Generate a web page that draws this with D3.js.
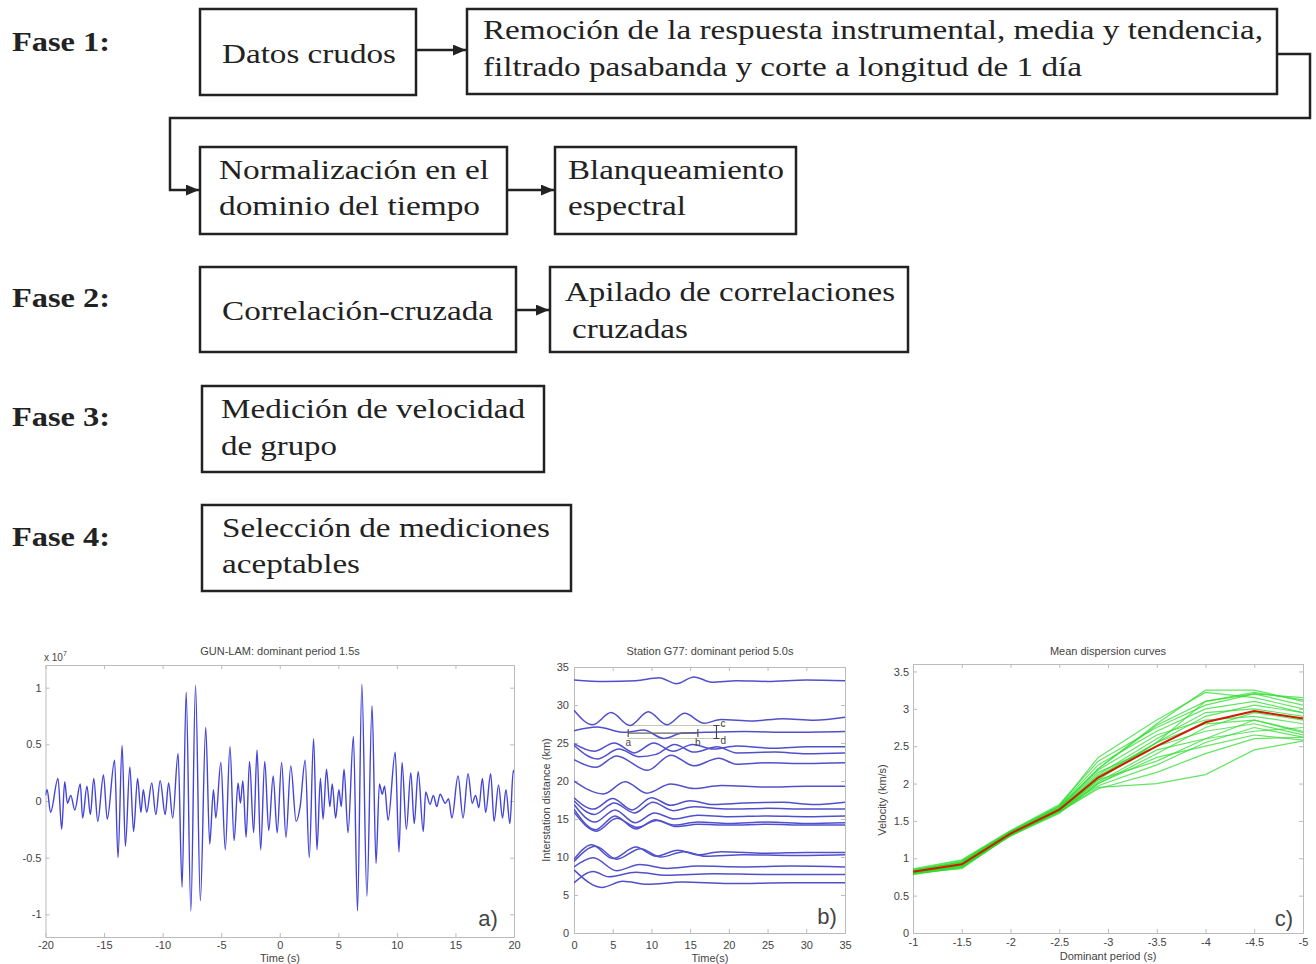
<!DOCTYPE html>
<html>
<head>
<meta charset="utf-8">
<script src="https://cdn.jsdelivr.net/npm/d3@7"></script>
<style>
body { margin: 0; background: #fff; }
svg { display: block; }
.axis text { font-family: "Liberation Sans", Arial, sans-serif; font-size: 11px; fill: #444; }
.axis path, .axis line { stroke: #bbb; }
.lbl { font-family: "Liberation Sans", Arial, sans-serif; font-size: 11px; fill: #444; }
.flow { font-family: "Liberation Serif", "Times New Roman", serif; font-size: 28px; fill: #222; }
</style>
</head>
<body>
<div id="chart"></div>
<script>

// ---------- flow chart text ----------
var faseLabels = ["Fase 1:", "Fase 2:", "Fase 3:", "Fase 4:"];
var boxLines = [
    ["Datos crudos"],
    ["Remoción de la respuesta instrumental, media y tendencia,", "filtrado pasabanda y corte a longitud de 1 día"],
    ["Normalización en el", "dominio del tiempo"],
    ["Blanqueamiento", "espectral"],
    ["Correlación-cruzada"],
    ["Apilado de correlaciones", "cruzadas"],
    ["Medición de velocidad", "de grupo"],
    ["Selección de mediciones", "aceptables"]
];

// ---------- a) GUN-LAM waveform (extrema, x 10^7) ----------
var waveT = [-20, -19.86, -19.57, -18.93, -18.62, -18.36, -18.13, -17.84, -17.5, -17.03, -16.83, -16.46, -16.17,
    -15.88, -15.54, -15.05, -14.73, -14.1, -13.81, -13.46, -13.18, -12.8, -12.48, -12.14, -11.85, -11.65, -11.36,
    -10.93, -10.58, -10.21, -9.78, -9.49, -9.14, -8.68, -8.34, -7.99, -7.59, -7.19, -6.78, -6.32, -5.98, -5.66,
    -5.46, -5.03, -4.65, -4.25, -3.9, -3.56, -3.36, -3.15, -2.87, -2.58, -2.23, -1.94, -1.63, -1.28, -0.94, -0.56,
    -0.22, 0.16, 0.53, 0.94, 1.4, 1.74, 2.17, 2.52, 2.89, 3.18, 3.47, 3.7, 3.99, 4.28, 4.48, 4.77, 5.05, 5.25,
    5.49, 5.83, 6.29, 6.64, 7.01, 7.44, 7.88, 8.22, 8.51, 8.75, 8.95, 9.25, 9.86, 10.18, 10.44, 10.81, 11.19,
    11.48, 11.82, 12.25, 12.46, 12.83, 13.12, 13.41, 13.69, 14.13, 14.41, 14.7, 15.22, 15.65, 16.08, 16.43,
    16.72, 17.0, 17.3, 17.58, 18.01, 18.3, 18.68, 19.02, 19.31, 19.65, 19.94, 20];
var waveV = [0.05, 0.1, -0.1, 0.2, -0.25, 0.17, -0.02, 0.05, -0.08, 0.15, -0.15, 0.13, -0.12,
    0.2, -0.18, 0.23, -0.16, 0.36, -0.5, 0.49, -0.4, 0.3, -0.27, 0.2, -0.1, 0.1, -0.1,
    0.16, -0.12, 0.18, -0.12, 0.16, -0.15, 0.42, -0.76, 0.96, -0.97, 1.02, -0.88, 0.65, -0.38, 0.1,
    -0.15, 0.34, -0.43, 0.48, -0.35, 0.16, -0.02, 0.18, -0.32, 0.35, -0.28, 0.45, -0.43, 0.35, -0.26, 0.22,
    -0.28, 0.34, -0.32, 0.31, -0.18, -0.05, 0.36, -0.5, 0.55, -0.43, 0.2, -0.16, 0.28, -0.05, 0.15, -0.15, 0.1, -0.05,
    0.28, -0.28, 0.57, -0.97, 1.03, -0.84, 0.84, -0.55, 0.15, 0.06, 0.13, -0.17, 0.43, -0.45, 0.34, -0.25, 0.25,
    -0.2, 0.26, -0.27, 0.08, -0.03, 0.05, -0.05, 0.06, -0.02, 0.02, -0.15, 0.22, -0.15, 0.24, -0.02,
    0.05, -0.06, 0.2, -0.1, 0.24, -0.18, 0.14, -0.15, 0.1, -0.2, 0.27, 0.25];
var waveXTicks = [-20, -15, -10, -5, 0, 5, 10, 15, 20];
var waveYTicks = [-1, -0.5, 0, 0.5, 1];

// ---------- b) Station G77 correlations: [time (s), distance (km)] ----------
var stationTraces = [
    [[0,33.3],[4,33.1],[8,33.2],[11,33.6],[13.2,32.8],[15.5,33.7],[17.8,33.0],[21,33.2],[25,33.1],[30,33.3],[35,33.2]],
    [[0,29.3],[2.4,27.4],[4.8,29.0],[7.2,27.3],[9.6,29.1],[12,27.4],[14.3,28.9],[16.8,27.6],[19,28.1],[23,27.9],[27,28.2],[31,28.0],[35,28.4]],
    [[0,26.6],[3,27.1],[6.5,26.4],[9,26.7],[11.6,25.6],[14,26.3],[17,26.4],[22,26.5],[28,26.4],[35,26.5]],
    [[0,24.9],[2.6,23.9],[5.2,25.0],[7.8,23.7],[10.3,25.0],[12.8,23.9],[15.3,24.8],[18,24.2],[21,24.6],[26,24.3],[30,24.5],[35,24.5]],
    [[0,24.7],[3,22.9],[5.8,24.2],[8.4,23.2],[10.6,23.5],[13,24.8],[15.5,23.8],[18.5,24.5],[21,23.7],[26,23.8],[30,23.6],[35,23.7]],
    [[0,22.8],[2.8,21.8],[5.5,23.3],[9.5,21.4],[12.5,23.4],[15.5,22.0],[18.7,23.0],[21,22.2],[25,22.4],[30,22.3],[35,22.4]],
    [[0,20.0],[3.8,18.3],[6.6,19.9],[9.4,18.4],[12.5,19.6],[15.5,19.0],[19,19.4],[25,19.2],[30,19.3],[35,19.3]],
    [[0,17.8],[2.5,16.3],[5,17.7],[7.5,16.2],[10,17.8],[12.5,16.8],[15,17.4],[18,16.9],[22,17.1],[27,17.2],[31,16.9],[35,17.2]],
    [[0,17.4],[2.6,15.6],[5.2,17.1],[7.8,15.8],[10.2,17.2],[12.8,16.1],[15.5,16.6],[20,16.3],[25,16.4],[30,16.3],[35,16.3]],
    [[0,16.9],[2.7,14.6],[5.3,16.2],[7.9,14.5],[10.4,15.8],[13,15.0],[16,15.5],[20,15.3],[25,15.4],[30,15.3],[35,15.4]],
    [[0,16.3],[2.8,13.6],[5.3,15.4],[8,13.7],[10.5,14.9],[13,14.2],[16,14.6],[20,14.4],[25,14.6],[30,14.4],[35,14.5]],
    [[0,15.9],[2.9,13.4],[5.5,15.1],[8.2,13.9],[10.7,14.8],[13.2,14.0],[16,14.3],[20,14.2],[25,14.3],[30,14.2],[35,14.2]],
    [[0,9.7],[2.3,11.6],[5,9.8],[8,11.3],[10.6,10.1],[13.4,10.9],[16,10.3],[19,10.7],[25,10.5],[30,10.6],[35,10.6]],
    [[0,9.4],[2.8,11.4],[5.5,9.7],[8.6,11.1],[11.2,10.0],[14.2,10.7],[17,10.1],[22,10.3],[28,10.2],[35,10.3]],
    [[0,8.7],[2.5,9.9],[5.5,8.2],[8.5,9.0],[12,8.5],[16,8.8],[22,8.7],[28,8.8],[35,8.7]],
    [[0,6.6],[2.5,8.1],[4.5,7.4],[8,8.0],[12,7.6],[18,7.8],[25,7.7],[35,7.7]],
    [[0,8.3],[3.6,6.0],[6.3,6.8],[9.5,6.4],[14,6.7],[20,6.5],[28,6.6],[35,6.6]]
];
// measurement sketch: a-b window and c-d band
var windowAB = [7, 16];
var windowLevel = 26.3;
var bandCD = [25.6, 27.3];
var bandEnd = 19.5;
var barCD = 18.4;
var stationXTicks = [0, 5, 10, 15, 20, 25, 30, 35];
var stationYTicks = [0, 5, 10, 15, 20, 25, 30, 35];

// ---------- c) dispersion curves ----------
var periods = [-1, -1.5, -2, -2.5, -2.9, -3.5, -4, -4.5, -5];
var meanVelocity = [0.82, 0.92, 1.33, 1.65, 2.08, 2.5, 2.82, 2.97, 2.87];
var pathVelocities = [
    [0.80, 0.90, 1.32, 1.63, 2.05, 2.55, 3.10, 3.22, 3.12],
    [0.83, 0.95, 1.35, 1.68, 2.20, 2.80, 3.25, 3.25, 3.10],
    [0.85, 0.97, 1.36, 1.70, 2.35, 2.85, 3.22, 3.15, 3.00],
    [0.78, 0.88, 1.30, 1.60, 2.00, 2.40, 2.75, 2.95, 2.85],
    [0.82, 0.93, 1.33, 1.66, 2.10, 2.55, 2.90, 3.05, 2.95],
    [0.80, 0.90, 1.31, 1.64, 2.02, 2.45, 2.60, 2.85, 2.70],
    [0.84, 0.94, 1.34, 1.67, 2.15, 2.50, 2.70, 2.80, 2.65],
    [0.79, 0.89, 1.30, 1.62, 1.95, 2.00, 2.12, 2.45, 2.57],
    [0.81, 0.91, 1.32, 1.65, 1.97, 2.25, 2.55, 2.75, 2.62],
    [0.83, 0.96, 1.36, 1.70, 2.25, 2.70, 3.00, 3.10, 2.95],
    [0.80, 0.88, 1.30, 1.63, 2.05, 2.30, 2.60, 2.70, 2.75],
    [0.86, 0.98, 1.37, 1.72, 2.30, 2.75, 3.05, 3.20, 3.05],
    [0.82, 0.92, 1.33, 1.66, 2.12, 2.60, 2.95, 3.00, 2.90],
    [0.79, 0.87, 1.31, 1.62, 2.00, 2.35, 2.50, 2.65, 2.58],
    [0.84, 0.95, 1.35, 1.69, 2.18, 2.65, 2.85, 2.90, 2.80],
    [0.81, 0.90, 1.32, 1.64, 2.08, 2.55, 2.80, 2.85, 2.68],
    [0.83, 0.94, 1.34, 1.67, 2.20, 2.78, 3.10, 3.20, 3.15],
    [0.80, 0.86, 1.31, 1.62, 1.93, 2.15, 2.40, 2.60, 2.62]
];
var periodTicks = [-1, -1.5, -2, -2.5, -3, -3.5, -4, -4.5, -5];
var velocityTicks = [0, 0.5, 1, 1.5, 2, 2.5, 3, 3.5];


var width = 1316, height = 964;
var svg = d3.select("#chart").append("svg")
    .attr("width", width)
    .attr("height", height);
svg.append("rect").attr("width", width).attr("height", height).attr("fill", "#fff");

var defs = svg.append("defs");
defs.append("marker")
    .attr("id", "arrow")
    .attr("viewBox", "0 0 12 10")
    .attr("refX", 12).attr("refY", 5)
    .attr("markerUnits", "userSpaceOnUse")
    .attr("markerWidth", 13).attr("markerHeight", 11)
    .attr("orient", "auto")
    .append("path").attr("d", "M0,0 L12,5 L0,10 Z").attr("fill", "#222");

/* FLOW CHART */
// box geometry: x, y, w, h, text x per line, baselines, rendered widths (the source is stretched sideways)
var boxLayout = [
    {x: 200, y: 9,   w: 216, h: 86, tx: [222],      ty: [63],       tw: [174]},
    {x: 467, y: 9,   w: 810, h: 85, tx: [483, 483], ty: [39, 76],   tw: [780, 599]},
    {x: 200, y: 147, w: 307, h: 87, tx: [219, 219], ty: [179, 215], tw: [270, 261]},
    {x: 555, y: 147, w: 241, h: 87, tx: [568, 568], ty: [179, 215], tw: [216, 118]},
    {x: 200, y: 267, w: 316, h: 85, tx: [222],      ty: [320],      tw: [271]},
    {x: 550, y: 267, w: 358, h: 85, tx: [565, 572], ty: [301, 338], tw: [330, 116]},
    {x: 202, y: 386, w: 342, h: 86, tx: [221, 221], ty: [418, 455], tw: [304, 116]},
    {x: 202, y: 505, w: 369, h: 86, tx: [222, 222], ty: [537, 573], tw: [328, 138]}
];
var faseY = [51, 307, 426, 546];

var flow = svg.append("g");

flow.selectAll(".fase")
    .data(faseLabels)
    .enter().append("text")
    .attr("class", "flow fase")
    .attr("x", 12)
    .attr("y", function(d, i) { return faseY[i]; })
    .attr("font-weight", "bold")
    .attr("textLength", 98)
    .attr("lengthAdjust", "spacingAndGlyphs")
    .text(function(d) { return d; });

var boxes = flow.selectAll(".box")
    .data(boxLines)
    .enter().append("g")
    .attr("class", "box");

boxes.append("rect")
    .attr("x", function(d, i) { return boxLayout[i].x; })
    .attr("y", function(d, i) { return boxLayout[i].y; })
    .attr("width", function(d, i) { return boxLayout[i].w; })
    .attr("height", function(d, i) { return boxLayout[i].h; })
    .attr("fill", "none")
    .attr("stroke", "#222")
    .attr("stroke-width", 2.5);

boxes.each(function(lines, i) {
    var b = boxLayout[i];
    d3.select(this).selectAll("text")
        .data(lines)
        .enter().append("text")
        .attr("class", "flow")
        .attr("x", function(d, j) { return b.tx[j]; })
        .attr("y", function(d, j) { return b.ty[j]; })
        .attr("textLength", function(d, j) { return b.tw[j]; })
        .attr("lengthAdjust", "spacingAndGlyphs")
        .text(function(d) { return d; });
});

// arrows between boxes
var arrows = ["M416,50 H466", "M507,190 H554", "M516,310 H549", "M1277,54 H1310 V118 H170 V190 H199"];
flow.selectAll(".arrow")
    .data(arrows)
    .enter().append("path")
    .attr("class", "arrow")
    .attr("d", function(d) { return d; })
    .attr("fill", "none")
    .attr("stroke", "#222")
    .attr("stroke-width", 2.5)
    .attr("marker-end", "url(#arrow)");


/* helpers for the three small matlab-like panels */
function fmt(d) { return String(d); }

function drawFrame(g, x, y, xt, yt, padX, padY) {
    var x0 = x.range()[0], x1 = x.range()[1], yb = y.range()[0], yt0 = y.range()[1];
    g.append("g").attr("class", "axis")
        .attr("transform", "translate(0," + yb + ")")
        .call(d3.axisBottom(x).tickValues(xt).tickSizeInner(-4).tickSizeOuter(0).tickPadding(padX).tickFormat(fmt));
    g.append("g").attr("class", "axis")
        .attr("transform", "translate(0," + yt0 + ")")
        .call(d3.axisTop(x).tickValues(xt).tickSizeInner(-4).tickSizeOuter(0).tickFormat(function() { return ""; }));
    g.append("g").attr("class", "axis")
        .attr("transform", "translate(" + x0 + ",0)")
        .call(d3.axisLeft(y).tickValues(yt).tickSizeInner(-4).tickSizeOuter(0).tickPadding(padY).tickFormat(fmt));
    g.append("g").attr("class", "axis")
        .attr("transform", "translate(" + x1 + ",0)")
        .call(d3.axisRight(y).tickValues(yt).tickSizeInner(-4).tickSizeOuter(0).tickFormat(function() { return ""; }));
}

function clipFor(id, x, y) {
    var r = x.range(), s = y.range();
    defs.append("clipPath").attr("id", id).append("rect")
        .attr("x", Math.min(r[0], r[1])).attr("y", s[1])
        .attr("width", Math.abs(r[1] - r[0])).attr("height", s[0] - s[1]);
    return "url(#" + id + ")";
}

function addText(txt, x, y, size, anchor, rotate) {
    var t = svg.append("text")
        .attr("class", "lbl")
        .attr("text-anchor", anchor || "middle")
        .style("font-size", size + "px")
        .text(txt);
    if (rotate) {
        t.attr("transform", "translate(" + x + "," + y + ") rotate(-90)");
    } else {
        t.attr("x", x).attr("y", y);
    }
    return t;
}

/* a) waveform */
var ax = d3.scaleLinear().domain([-20, 20]).range([45.5, 514]);
var ay = d3.scaleLinear().domain([-1.2, 1.2]).range([937, 665]);
var ga = svg.append("g");
drawFrame(ga, ax, ay, waveXTicks, waveYTicks, 4, 4);

var waveData = waveT.map(function(t, i) { return [t, waveV[i]]; });
ga.append("path")
    .datum(waveData)
    .attr("clip-path", clipFor("clipA", ax, ay))
    .attr("fill", "none")
    .attr("stroke", "#4444d8")
    .attr("stroke-width", 1.4)
    .attr("d", d3.line()
        .x(function(d) { return ax(d[0]); })
        .y(function(d) { return ay(d[1]); })
        .curve(d3.curveMonotoneX));

addText("GUN-LAM: dominant period 1.5s", 280, 655, 11);
var exp = addText("x 10", 44, 661, 10, "start");
exp.append("tspan").attr("dy", -5).style("font-size", "7px").text("7");
addText("Time (s)", 280, 962, 11);
addText("a)", 488, 926, 22);

/* b) station correlations */
var bx = d3.scaleLinear().domain([0, 35]).range([574, 845]);
var by = d3.scaleLinear().domain([0, 35]).range([933, 667]);
var gb = svg.append("g");
drawFrame(gb, bx, by, stationXTicks, stationYTicks, 8, 5);

var bline = d3.line()
    .x(function(d) { return bx(d[0]); })
    .y(function(d) { return by(d[1]); })
    .curve(d3.curveMonotoneX);

var bclip = clipFor("clipB", bx, by);

// gray measurement marks
gb.append("line")
    .attr("x1", bx(windowAB[0])).attr("x2", bx(bandEnd))
    .attr("y1", by(bandCD[1])).attr("y2", by(bandCD[1]))
    .attr("stroke", "#c8c8b0").attr("stroke-width", 1);
gb.append("line")
    .attr("x1", bx(windowAB[0])).attr("x2", bx(bandEnd))
    .attr("y1", by(bandCD[0])).attr("y2", by(bandCD[0]))
    .attr("stroke", "#c8c8b0").attr("stroke-width", 1);

gb.selectAll(".trace")
    .data(stationTraces)
    .enter().append("path")
    .attr("class", "trace")
    .attr("clip-path", bclip)
    .attr("fill", "none")
    .attr("stroke", "#5050cc")
    .attr("stroke-width", 1.5)
    .attr("d", bline);

gb.append("line")
    .attr("x1", bx(windowAB[0])).attr("x2", bx(windowAB[1]))
    .attr("y1", by(windowLevel)).attr("y2", by(windowLevel))
    .attr("stroke", "#666").attr("stroke-width", 1.2);
gb.selectAll(".abtick")
    .data(windowAB)
    .enter().append("line")
    .attr("x1", function(d) { return bx(d); }).attr("x2", function(d) { return bx(d); })
    .attr("y1", by(windowLevel) - 4).attr("y2", by(windowLevel) + 4)
    .attr("stroke", "#555").attr("stroke-width", 1.2);
gb.selectAll(".ablbl")
    .data(["a", "b"])
    .enter().append("text")
    .attr("class", "lbl")
    .attr("text-anchor", "middle")
    .style("font-size", "10px")
    .attr("x", function(d, i) { return bx(windowAB[i]); })
    .attr("y", by(windowLevel) + 13)
    .text(function(d) { return d; });

// c-d error bar
gb.append("path")
    .attr("d", "M" + (bx(barCD) - 3) + "," + by(bandCD[1]) + " h6 M" + bx(barCD) + "," + by(bandCD[1]) +
        " V" + by(bandCD[0]) + " M" + (bx(barCD) - 3) + "," + by(bandCD[0]) + " h6")
    .attr("stroke", "#444").attr("stroke-width", 1.1).attr("fill", "none");
gb.selectAll(".cdlbl")
    .data(["c", "d"])
    .enter().append("text")
    .attr("class", "lbl")
    .style("font-size", "10px")
    .attr("x", bx(barCD) + 4)
    .attr("y", function(d, i) { return by(bandCD[1 - i]) + (i ? 6 : 1); })
    .text(function(d) { return d; });

addText("Station G77: dominant period 5.0s", 710, 655, 11);
addText("Time(s)", 710, 962, 11);
addText("Interstation distance (km)", 550, 800, 11, "middle", true);
addText("b)", 827, 924, 22);

/* c) dispersion curves */
var cx = d3.scaleLinear().domain([-1, -5]).range([913, 1303]);
var cy = d3.scaleLinear().domain([0, 3.6]).range([933, 664]);
var gc = svg.append("g");
drawFrame(gc, cx, cy, periodTicks, velocityTicks, 5, 4);

var cline = d3.line()
    .x(function(d, i) { return cx(periods[i]); })
    .y(function(d) { return cy(d); });

var cclip = clipFor("clipC", cx, cy);
gc.selectAll(".path")
    .data(pathVelocities)
    .enter().append("path")
    .attr("clip-path", cclip)
    .attr("fill", "none")
    .attr("stroke", "#2edc2e")
    .attr("stroke-opacity", 0.75)
    .attr("stroke-width", 1.2)
    .attr("d", cline);

gc.append("path")
    .datum(meanVelocity)
    .attr("fill", "none")
    .attr("stroke", "#d21a00")
    .attr("stroke-width", 2)
    .attr("d", cline);

addText("Mean dispersion curves", 1108, 655, 11);
addText("Dominant period (s)", 1108, 960, 11);
addText("Velocity (km/s)", 886, 800, 11, "middle", true);
addText("c)", 1284, 926, 22);

</script>
</body>
</html>
